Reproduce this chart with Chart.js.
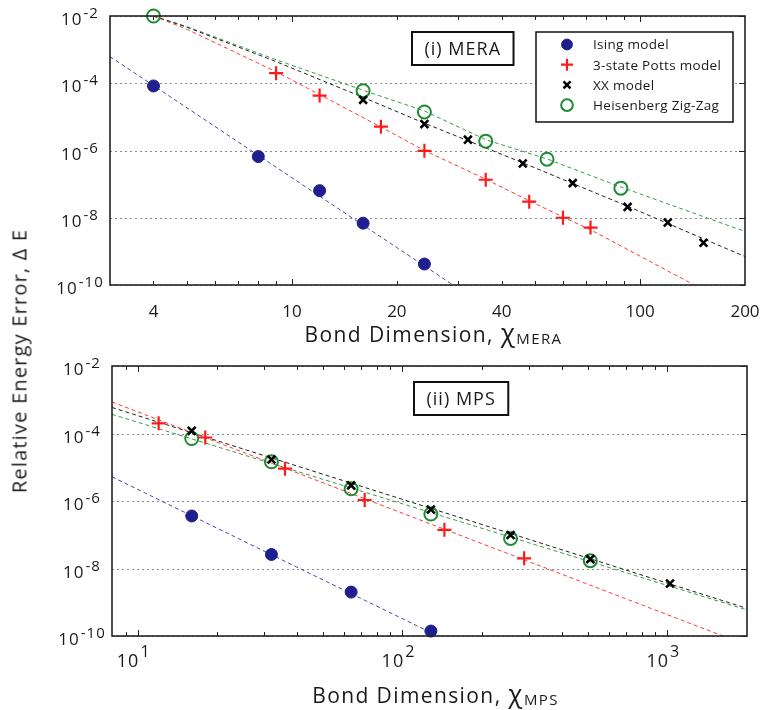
<!DOCTYPE html>
<html>
<head>
<meta charset="utf-8">
<script src="https://cdn.jsdelivr.net/npm/chart.js@4.4.0/dist/chart.umd.min.js"></script>
<style>
  body { margin: 0; background: #fff; width: 764px; height: 710px; position: relative; overflow: hidden; }
  canvas { position: absolute; left: 0; }
  #mera { top: 0; }
  #mps { top: 350px; }
  #ytitle {
    position: absolute; left: 19px; top: 361px;
    transform: translate(-50%, -50%) rotate(-90deg);
    font: 20px 'Open Sans', sans-serif; letter-spacing: 1.2px;
    white-space: nowrap; color: #1a1a1a;
  }
</style>
</head>
<body>
<canvas id="mera" width="764" height="350"></canvas>
<canvas id="mps" width="764" height="360"></canvas>
<div id="ytitle">Relative Energy Error, Δ E</div>
<script>
// panel (i) MERA - measured points
const meraIsingX = [4, 8, 12, 16, 24];
const meraIsingY = [8.3e-5, 6.6e-7, 6.4e-8, 6.9e-9, 4.2e-10];
const meraPottsX = [9, 12, 18, 24, 36, 48, 60, 72];
const meraPottsY = [2.0e-4, 4.3e-5, 5.1e-6, 9.8e-7, 1.35e-7, 3.0e-8, 1.0e-8, 5.1e-9];
const meraXXX = [16, 24, 32, 46, 64, 92, 120, 152];
const meraXXY = [3.2e-5, 6.1e-6, 2.1e-6, 4.1e-7, 1.07e-7, 2.1e-8, 7.2e-9, 1.8e-9];
const meraHeisX = [4, 16, 24, 36, 54, 88];
const meraHeisY = [1.0e-2, 6.0e-5, 1.4e-5, 1.9e-6, 5.5e-7, 7.6e-8];

// panel (i) MERA - fitted curves (dashed)
const meraIsingFitX = [3, 29];
const meraIsingFitY = [6.2e-4, 1.0e-10];
const meraPottsFitX = [4, 5, 9, 12, 18, 24, 36, 48, 60, 72, 143];
const meraPottsFitY = [1e-2, 4e-3, 2.2e-4, 4.6e-5, 5e-6, 1e-6, 1.4e-7, 3.2e-8, 1.05e-8, 4.4e-9, 1e-10];
const meraXXFitX = [4, 5, 9, 16, 24, 46, 92, 200];
const meraXXFitY = [1e-2, 4.6e-3, 4.4e-4, 3.8e-5, 6.5e-6, 4.3e-7, 2.2e-8, 7e-10];
const meraHeisFitX = [4, 5, 9, 16, 24, 36, 54, 88, 200];
const meraHeisFitY = [1e-2, 4.8e-3, 5e-4, 6.2e-5, 1.5e-5, 2.1e-6, 5.6e-7, 8.2e-8, 3.9e-9];

// panel (ii) MPS - measured points
const mpsIsingX = [16, 32, 64, 128];
const mpsIsingY = [3.6e-7, 2.6e-8, 2.0e-9, 1.4e-10];
const mpsPottsX = [12, 18, 36, 72, 144, 288];
const mpsPottsY = [2.0e-4, 7.6e-5, 9.1e-6, 1.07e-6, 1.4e-7, 2.0e-8];
const mpsXXX = [16, 32, 64, 128, 256, 512, 1024];
const mpsXXY = [1.2e-4, 1.7e-5, 2.9e-6, 5.6e-7, 9.8e-8, 1.9e-8, 3.6e-9];
const mpsHeisX = [16, 32, 64, 128, 256, 512];
const mpsHeisY = [7.1e-5, 1.45e-5, 2.3e-6, 4.1e-7, 7.8e-8, 1.7e-8];

// panel (ii) MPS - fitted lines
const mpsIsingFitX = [8, 136];
const mpsIsingFitY = [5.2e-6, 1e-10];
const mpsPottsFitX = [8, 1624];
const mpsPottsFitY = [8.6e-4, 1e-10];
const mpsXXFitX = [8, 2000];
const mpsXXFitY = [5.9e-4, 6.6e-10];
const mpsHeisFitX = [8, 2000];
const mpsHeisFitY = [3.7e-4, 5.9e-10];

// axes
const yExps = [-2, -4, -6, -8, -10];
const meraXTicks = [4, 10, 20, 40, 100, 200];
const mpsXExps = [1, 2, 3];

const modelNames = ['Ising model', '3-state Potts model', 'XX model', 'Heisenberg Zig-Zag'];

const FONT = "'Open Sans', 'Noto Sans', sans-serif";
const INK = '#1a1a1a';

const styles = [
  { pointStyle: 'circle', radius: 6, color: '#1f1f8f', fill: '#1f1f8f', line: '#4848a8', width: 1 },
  { pointStyle: 'cross', radius: 7, color: '#ff1a1a', fill: '#ff1a1a', line: '#ff3a3a', width: 2.2 },
  { pointStyle: 'crossRot', radius: 5.5, color: '#000000', fill: '#000000', line: '#202020', width: 2.6 },
  { pointStyle: 'circle', radius: 6.5, color: '#1e8c32', fill: 'rgba(0,0,0,0)', line: '#3a9a4a', width: 2 }
];

const zip = (xs, ys) => xs.map((x, i) => ({ x, y: ys[i] }));

function buildDatasets(points, fits) {
  const sets = [];
  points.forEach(([xs, ys], i) => {
    const s = styles[i];
    sets.push({
      label: modelNames[i], data: zip(xs, ys), order: 0, clip: false,
      pointStyle: s.pointStyle, pointRadius: s.radius, pointBorderWidth: s.width,
      pointBorderColor: s.color, pointBackgroundColor: s.fill, showLine: false
    });
  });
  fits.forEach(([xs, ys], i) => {
    sets.push({
      fit: true, data: zip(xs, ys), order: 1, showLine: true, pointRadius: 0,
      borderColor: styles[i].line, borderWidth: 1, borderDash: [4, 3], tension: 0
    });
  });
  return sets;
}

function drawPow(ctx, exp, cx, base, big, small, rise) {
  ctx.letterSpacing = '1px';
  ctx.font = `${big}px ${FONT}`;
  const w1 = ctx.measureText('10').width;
  ctx.font = `${small}px ${FONT}`;
  const w2 = ctx.measureText(String(exp)).width;
  const left = cx - (w1 + w2 + 1) / 2;
  ctx.textAlign = 'left';
  ctx.font = `${big}px ${FONT}`;
  ctx.fillText('10', left, base);
  ctx.font = `${small}px ${FONT}`;
  ctx.fillText(String(exp), left + w1 + 1, base - rise);
  ctx.letterSpacing = '0px';
}

function logTicks(min, max) {
  const out = [];
  for (let k = Math.floor(Math.log10(min)); k <= Math.ceil(Math.log10(max)); k++) {
    for (let m = 1; m <= 9; m++) {
      const v = m * Math.pow(10, k);
      if (v > min * 1.0001 && v < max * 0.9999) out.push({ v, major: m === 1 });
    }
  }
  return out;
}

const framePlugin = {
  id: 'frame',
  beforeDatasetsDraw(chart, args, opts) {
    const { ctx, chartArea: a, scales: { y } } = chart;
    ctx.save();
    ctx.strokeStyle = '#8a8a8a';
    ctx.lineWidth = 1;
    ctx.setLineDash([2, 3]);
    yExps.forEach(e => {
      const py = Math.round(y.getPixelForValue(Math.pow(10, e))) + 0.5;
      ctx.beginPath(); ctx.moveTo(a.left, py); ctx.lineTo(a.right, py); ctx.stroke();
    });
    ctx.restore();
  },
  afterDraw(chart, args, opts) {
    const { ctx, chartArea: a, scales: { x, y } } = chart;
    ctx.save();
    // frame + inward ticks
    ctx.strokeStyle = '#222';
    ctx.lineWidth = 1.6;
    ctx.strokeRect(a.left, a.top, a.right - a.left, a.bottom - a.top);
    ctx.lineWidth = 1;
    logTicks(x.min, x.max).forEach(t => {
      const px = Math.round(x.getPixelForValue(t.v)) + 0.5;
      const len = t.major ? 6 : 4;
      ctx.beginPath();
      ctx.moveTo(px, a.bottom); ctx.lineTo(px, a.bottom - len);
      ctx.moveTo(px, a.top); ctx.lineTo(px, a.top + len);
      ctx.stroke();
    });
    yExps.forEach(e => {
      const py = Math.round(y.getPixelForValue(Math.pow(10, e))) + 0.5;
      ctx.beginPath();
      ctx.moveTo(a.right, py); ctx.lineTo(a.right - 6, py);
      ctx.stroke();
    });

    // y tick labels
    ctx.fillStyle = INK;
    ctx.textBaseline = 'alphabetic';
    yExps.forEach(e => {
      const py = y.getPixelForValue(Math.pow(10, e));
      drawPow(ctx, e, a.left - 30, py + 9, 17, 15, 7);
    });

    // x tick labels
    if (opts.plainTicks) {
      ctx.font = `17px ${FONT}`;
      ctx.textAlign = 'center';
      opts.plainTicks.forEach(v => ctx.fillText(String(v), x.getPixelForValue(v), a.bottom + 32));
    } else {
      opts.powTicks.forEach(e => {
        drawPow(ctx, e, x.getPixelForValue(Math.pow(10, e)) - 4, a.bottom + 31, 18, 16, 10);
      });
    }

    // x axis title with subscript
    const main = 'Bond Dimension, ';
    ctx.letterSpacing = '1.4px';
    ctx.font = `21px ${FONT}`;
    const w1 = ctx.measureText(main).width;
    ctx.font = `26px ${FONT}`;
    const w2 = ctx.measureText('χ').width;
    ctx.font = `15px ${FONT}`;
    const w3 = ctx.measureText(opts.sub).width;
    let tx = (a.left + a.right) / 2 + 6 - (w1 + w2 + w3) / 2;
    const ty = a.bottom + opts.titleOffset;
    ctx.textAlign = 'left';
    ctx.font = `21px ${FONT}`;
    ctx.fillText(main, tx, ty);
    tx += w1;
    ctx.font = `26px ${FONT}`;
    ctx.fillText('χ', tx, ty);
    tx += w2;
    ctx.font = `15px ${FONT}`;
    ctx.fillText(opts.sub, tx, ty + 2);

    // panel tag
    ctx.letterSpacing = '1px';
    ctx.font = `18px ${FONT}`;
    const tw = ctx.measureText(opts.tag).width;
    const bx = a.left + 302, by = a.top + 16, bw = tw + 25, bh = 33;
    ctx.fillStyle = '#fff';
    ctx.fillRect(bx, by, bw, bh);
    ctx.lineWidth = 2;
    ctx.strokeStyle = '#111';
    ctx.strokeRect(bx, by, bw, bh);
    ctx.fillStyle = INK;
    ctx.textBaseline = 'middle';
    ctx.fillText(opts.tag, bx + 12.5, by + bh / 2 + 1);

    // legend
    if (opts.legend) {
      const lx = a.right - 12 - 197, ly = a.top + 16, lw = 197, lh = 90;
      ctx.fillStyle = '#fff';
      ctx.fillRect(lx, ly, lw, lh);
      ctx.lineWidth = 1.5;
      ctx.strokeStyle = '#111';
      ctx.strokeRect(lx, ly, lw, lh);
      ctx.letterSpacing = '0.3px';
      ctx.font = `13.5px ${FONT}`;
      chart.data.datasets.filter(d => !d.fit).forEach((d, i) => {
        const ry = ly + 12.5 + i * 20.2;
        ctx.fillStyle = d.pointBackgroundColor;
        ctx.strokeStyle = d.pointBorderColor;
        ctx.lineWidth = d.pointBorderWidth;
        Chart.helpers.drawPoint(ctx, {
          pointStyle: d.pointStyle, radius: d.pointStyle === 'cross' ? 6 : d.pointRadius * 0.9,
          rotation: 0, borderWidth: d.pointBorderWidth
        }, lx + 31, ry);
        ctx.fillStyle = INK;
        ctx.fillText(d.label, lx + 57, ry + 1);
      });
    }
    ctx.restore();
  }
};

function makeChart(id, xmin, xmax, padding, datasets, frameOpts) {
  return new Chart(document.getElementById(id), {
    type: 'scatter',
    data: { datasets },
    plugins: [framePlugin],
    options: {
      responsive: false,
      animation: false,
      devicePixelRatio: 1,
      layout: { padding },
      events: [],
      scales: {
        x: { type: 'logarithmic', min: xmin, max: xmax, display: false },
        y: { type: 'logarithmic', min: 1e-10, max: 1e-2, display: false }
      },
      plugins: {
        legend: { display: false },
        tooltip: { enabled: false },
        frame: frameOpts
      }
    }
  });
}

makeChart('mera', 3, 200, { left: 110, top: 16, right: 19, bottom: 65 },
  buildDatasets(
    [[meraIsingX, meraIsingY], [meraPottsX, meraPottsY], [meraXXX, meraXXY], [meraHeisX, meraHeisY]],
    [[meraIsingFitX, meraIsingFitY], [meraPottsFitX, meraPottsFitY], [meraXXFitX, meraXXFitY], [meraHeisFitX, meraHeisFitY]]
  ),
  { plainTicks: meraXTicks, sub: 'MERA', titleOffset: 57, tag: '(i) MERA', legend: true });

makeChart('mps', 8, 2000, { left: 112, top: 16, right: 17, bottom: 74 },
  buildDatasets(
    [[mpsIsingX, mpsIsingY], [mpsPottsX, mpsPottsY], [mpsXXX, mpsXXY], [mpsHeisX, mpsHeisY]],
    [[mpsIsingFitX, mpsIsingFitY], [mpsPottsFitX, mpsPottsFitY], [mpsXXFitX, mpsXXFitY], [mpsHeisFitX, mpsHeisFitY]]
  ),
  { powTicks: mpsXExps, sub: 'MPS', titleOffset: 67, tag: '(ii) MPS', legend: false });
</script>
</body>
</html>
